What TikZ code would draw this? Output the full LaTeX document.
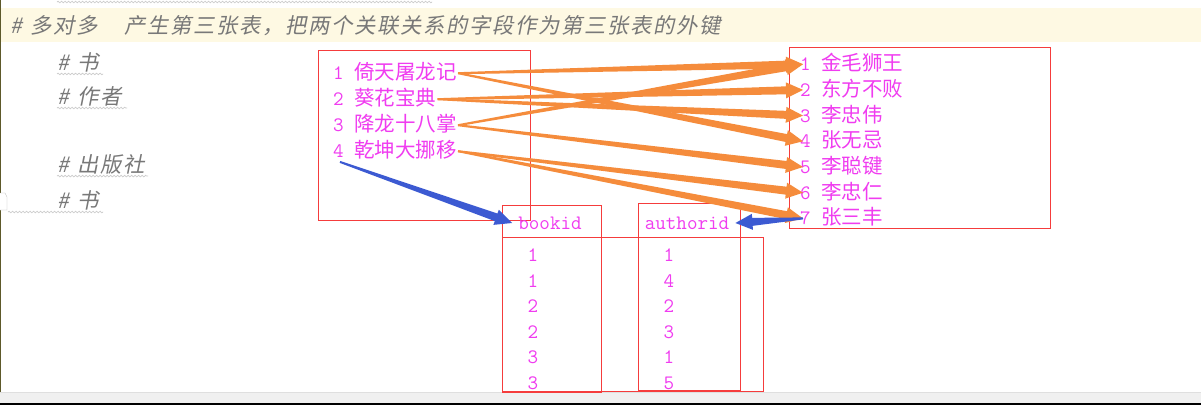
\documentclass[tikz,border=0pt]{standalone}
\usepackage{fontspec}
\newfontfamily\cjk{Noto Sans CJK SC}
\newfontfamily\cjkit[FakeSlant=0.2, LetterSpace=8]{Noto Sans CJK SC}
\usepackage{tikz}
\usetikzlibrary{fit,matrix,positioning,calc,decorations.pathmorphing}

\definecolor{bandyellow}{RGB}{254,249,227}
\definecolor{notegray}{RGB}{120,120,120}
\definecolor{rowpink}{RGB}{240,60,240}
\definecolor{boxred}{RGB}{245,60,60}
\definecolor{arrorange}{RGB}{245,140,60}
\definecolor{arrblue}{RGB}{60,90,210}

\tikzset{
	rowtxt/.style={inner sep=1pt, text=rowpink, font=\fontsize{20.5}{24}\selectfont, text height=16pt, text depth=3pt},
	cell/.style={rowtxt, font=\ttfamily\fontsize{20.5}{24}\selectfont},
	note/.style={anchor=west, inner sep=0pt, text=notegray, font=\cjkit\fontsize{21.3}{24}\selectfont},
	redbox/.style={draw=boxred, line width=1pt, inner sep=0pt, outer sep=0pt},
	squiggle/.style={draw=gray!40, line width=0.7pt, decorate, decoration={snake, amplitude=0.8pt, segment length=3.5pt}},
}

\newcommand\rowtext[2]{{\ttfamily #1~}{\cjk #2}}
% tapered arrow: colour, from, to
\newcommand\fatarrow[3]{%
	\fill[#1] ($(#2)!1pt!90:(#3)$) -- ($(#3)!17pt!(#2)!4pt!-90:(#2)$) -- ($(#3)!17pt!(#2)!8pt!-90:(#2)$) -- (#3)
		-- ($(#3)!17pt!(#2)!8pt!90:(#2)$) -- ($(#3)!17pt!(#2)!4pt!90:(#2)$) -- ($(#2)!1pt!-90:(#3)$) -- cycle;}

\begin{document}
\begin{tikzpicture}[x=1pt, y=-1pt]
	\useasboundingbox (0,0) rectangle (1201,405);
	\fill[white] (0,0) rectangle (1201,405);
	\fill[bandyellow] (0,8) rectangle (1201,42);
	\fill[gray!12] (0,392) rectangle (1201,403);
	\draw[gray!25] (0,392) -- (1201,392);
	\fill[black] (0,403) rectangle (1201,405);
	\fill[black!45!olive] (0,0) rectangle (1.2,392);
	\draw[gray!50, fill=white] (0,193) -- (5,193) -- (7,197) -- (7,210) -- (0,210);
	\draw[squiggle] (57,2) -- (432,2);

	% editor lines
	\node[note] (head) at (10,26) {\#\hspace{0.4em}多对多\hspace{1.25em}产生第三张表，把两个关联关系的字段作为第三张表的外键};
	\node[note] (n1) at (57,62) {\#\hspace{0.4em}书};
	\node[note] (n2) at (57,96) {\#\hspace{0.4em}作者};
	\node[note] (n3) at (57,164) {\#\hspace{0.4em}出版社};
	\node[note] (n4) at (57,200) {\#\hspace{0.4em}书};
	\draw[squiggle] (n1.south west) ++(0,2) -- ++(46,0);
	\draw[squiggle] (n2.south west) ++(0,2) -- ++(70,0);
	\draw[squiggle] (n3.south west) ++(0,2) -- ++(91,0);
	\draw[squiggle] (8,212) -- (103,212);

	% books and authors
	\matrix (books) [matrix of nodes, inner sep=0pt, row sep=5pt, anchor=north west,
		nodes={rowtxt}, column 1/.style={anchor=base west}] at (332,62.5)
	{
		\rowtext{1}{倚天屠龙记} \\
		\rowtext{2}{葵花宝典} \\
		\rowtext{3}{降龙十八掌} \\
		\rowtext{4}{乾坤大挪移} \\
	};
	\matrix (authors) [matrix of nodes, inner sep=0pt, row sep=4.7pt, anchor=north west,
		nodes={rowtxt, inner xsep=-3pt}, column 1/.style={anchor=base west}] at (803,53.5)
	{
		\rowtext{1}{金毛狮王} \\
		\rowtext{2}{东方不败} \\
		\rowtext{3}{李忠伟} \\
		\rowtext{4}{张无忌} \\
		\rowtext{5}{李聪键} \\
		\rowtext{6}{李忠仁} \\
		\rowtext{7}{张三丰} \\
	};
	\node[redbox, fit={(318,50) (530,220)}] (bookbox) {};
	\node[redbox, fit={(789,47) (1050,228)}] (authorbox) {};

	% link table
	\node[cell, inner xsep=6pt] (hbook) at (550,223) {bookid};
	\node[cell, inner xsep=6pt] (hauthor) at (687,223) {authorid};
	\matrix (link) [matrix of nodes, inner sep=0pt, row sep=0pt, column sep=116pt,
		nodes={cell, minimum width=20pt, minimum height=25.6pt}] at (601,319)
	{
		1 & 1 \\
		1 & 4 \\
		2 & 2 \\
		2 & 3 \\
		3 & 1 \\
		3 & 5 \\
	};
	\node[redbox, fit={(502,205) (601,392)}] (bookcol) {};
	\node[redbox, fit={(638,203) (740,390)}] (authorcol) {};
	\node[redbox, fit={(502,237) (763,391)}] (rowbox) {};

	% links
	\fatarrow{arrorange}{books-1-1.east}{authors-1-1.west}
	\fatarrow{arrorange}{books-1-1.east}{authors-4-1.west}
	\fatarrow{arrorange}{books-2-1.east}{authors-2-1.west}
	\fatarrow{arrorange}{books-2-1.east}{authors-3-1.west}
	\fatarrow{arrorange}{books-3-1.east}{authors-1-1.west}
	\fatarrow{arrorange}{books-3-1.east}{authors-5-1.west}
	\fatarrow{arrorange}{books-4-1.east}{authors-6-1.west}
	\fatarrow{arrorange}{books-4-1.east}{authors-7-1.west}
	\coordinate (bstart) at ($(books-4-1.south west)+(8,0)$);
	\fatarrow{arrblue}{bstart}{hbook.west}
	\fatarrow{arrblue}{authors-7-1.west}{hauthor.east}
\end{tikzpicture}
\end{document}
